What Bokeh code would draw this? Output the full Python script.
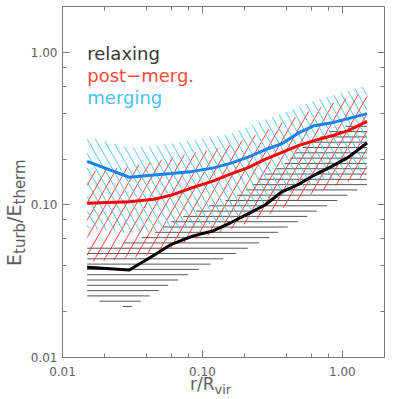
import numpy as np
from bokeh.plotting import figure
from bokeh.models import LogAxis, LogTicker, PrintfTickFormatter, Label, Range1d, Div
from bokeh.layouts import column, row
from bokeh.embed import file_html
from bokeh.resources import INLINE

# radial bins r/R_vir
r_bins = [0.015, 0.03, 0.045, 0.06, 0.085, 0.12, 0.16, 0.21, 0.28, 0.37, 0.49, 0.63, 0.84, 1.1, 1.5]

# relaxing (black): median and band
relax_med = [0.039, 0.0375, 0.0468, 0.0552, 0.0625, 0.0678, 0.0767, 0.087, 0.100, 0.122, 0.137, 0.157, 0.179, 0.205, 0.255]
relax_lo = [0.0244, 0.0211, 0.0263, 0.0305, 0.0362, 0.0418, 0.0465, 0.052, 0.0588, 0.0684, 0.0783, 0.0894, 0.1023, 0.1166, 0.1355]
relax_hi = [0.0532, 0.0569, 0.0655, 0.0779, 0.0893, 0.1015, 0.1095, 0.1274, 0.160, 0.1806, 0.230, 0.2636, 0.311, 0.331, 0.341]

# post-merger (red)
post_med = [0.1026, 0.105, 0.109, 0.116, 0.130, 0.144, 0.160, 0.175, 0.199, 0.221, 0.246, 0.264, 0.284, 0.307, 0.353]
post_lo = [0.0422, 0.0445, 0.0476, 0.0521, 0.0593, 0.0644, 0.0695, 0.0761, 0.0847, 0.0948, 0.108, 0.120, 0.131, 0.142, 0.154]
post_hi = [0.165, 0.178, 0.193, 0.205, 0.220, 0.232, 0.248, 0.272, 0.307, 0.346, 0.385, 0.425, 0.462, 0.506, 0.556]

# merging (blue)
merg_med = [0.193, 0.152, 0.157, 0.161, 0.166, 0.175, 0.188, 0.205, 0.230, 0.252, 0.298, 0.331, 0.346, 0.368, 0.397]
merg_lo = [0.0706, 0.0654, 0.0664, 0.0685, 0.0717, 0.0761, 0.0809, 0.0886, 0.1015, 0.1146, 0.1274, 0.1374, 0.148, 0.157, 0.167]
merg_hi = [0.281, 0.237, 0.244, 0.252, 0.266, 0.278, 0.295, 0.326, 0.362, 0.397, 0.441, 0.483, 0.521, 0.562, 0.607]

legend_labels = ["relaxing", "post\u2212merg.", "merging"]

FW, FH = 325, 351
XMIN, XMAX, YMIN, YMAX = 0.01, 2.0, 0.01, 2.0
XS = FW / np.log10(XMAX / XMIN)   # px per decade
YS = FH / np.log10(YMAX / YMIN)
FRAME_L, FRAME_B = 59, 357        # page position of frame's left / bottom edge


def hatch_segments(r, lo, hi, theta_deg, spacing, phase=0.0):
    U = np.log10(r) * XS
    Vlo = np.log10(lo) * YS
    Vhi = np.log10(hi) * YS
    th = np.radians(theta_deg)
    d = np.array([np.cos(th), np.sin(th)])
    n = np.array([-np.sin(th), np.cos(th)])
    corners = np.array([[U[0], Vlo.min()], [U[0], Vhi.max()],
                        [U[-1], Vlo.min()], [U[-1], Vhi.max()]])
    cv = corners @ n
    tv = corners @ d
    t = np.arange(tv.min() - 2, tv.max() + 2, 0.05)
    xs, ys = [], []
    k0 = int(np.floor((cv.min() - phase) / spacing))
    k1 = int(np.ceil((cv.max() - phase) / spacing))
    for k in range(k0, k1 + 1):
        c = phase + k * spacing
        pu = c * n[0] + t * d[0]
        pv = c * n[1] + t * d[1]
        inside = (pu >= U[0]) & (pu <= U[-1])
        li = np.interp(pu, U, Vlo)
        hi_ = np.interp(pu, U, Vhi)
        inside &= (pv >= li) & (pv <= hi_)
        edges = np.flatnonzero(np.diff(np.concatenate([[0], inside.astype(int), [0]])))
        for s, e in zip(edges[::2], edges[1::2]):
            if e - s < 3:
                continue
            xs.append([float(v) for v in 10 ** (pu[[s, e - 1]] / XS)])
            ys.append([float(v) for v in 10 ** (pv[[s, e - 1]] / YS)])
    return xs, ys


YDIV_W = 27
P_W, P_H = 399 - YDIV_W, 380
BL = FRAME_L - YDIV_W
BT = 6
BR = P_W - BL - FW
BB = P_H - BT - FH

p = figure(x_axis_type="log", y_axis_type="log",
           x_range=Range1d(XMIN, XMAX), y_range=Range1d(YMIN, YMAX),
           width=P_W, height=P_H,
           min_border_left=BL, min_border_right=BR, min_border_top=BT, min_border_bottom=BB,
           output_backend="svg", toolbar_location=None)
p.xgrid.visible = False
p.ygrid.visible = False
p.outline_line_color = None
p.background_fill_color = "white"
p.border_fill_color = "white"

AX = "#7a7a7a"
TXT = "#5e5e5e"
for ax in (p.xaxis[0], p.yaxis[0]):
    ax.ticker = LogTicker()
    ax.formatter = PrintfTickFormatter(format="%.2f")
    ax.axis_line_color = AX
    ax.major_tick_line_color = AX
    ax.minor_tick_line_color = AX
    ax.major_tick_in = 7
    ax.major_tick_out = 0
    ax.minor_tick_in = 4
    ax.minor_tick_out = 0
    ax.major_label_text_font = "DejaVu Sans"
    ax.major_label_text_font_size = "12px"
    ax.major_label_text_color = TXT
p.xaxis[0].major_label_standoff = 9
p.yaxis[0].major_label_standoff = 5

for loc in ("above", "right"):
    a = LogAxis(ticker=LogTicker(), axis_line_color=AX, major_tick_line_color=AX,
                minor_tick_line_color=AX, major_tick_in=7, major_tick_out=0,
                minor_tick_in=4, minor_tick_out=0, major_label_text_font_size="1px",
                major_label_text_alpha=0, major_label_standoff=0)
    p.add_layout(a, loc)

# hatched bands
bx, by = hatch_segments(r_bins, relax_lo, relax_hi, 0, 5.3, 0.3)
p.multi_line(bx, by, line_color="#3a3a3a", line_width=1, line_alpha=0.85)
rx, ry = hatch_segments(r_bins, post_lo, post_hi, 60, 8.7, 0.0)
p.multi_line(rx, ry, line_color="#ff3322", line_width=1, line_alpha=0.9)
cx, cy = hatch_segments(r_bins, merg_lo, merg_hi, 120, 7.2, 0.0)
p.multi_line(cx, cy, line_color="#4cc3f5", line_width=1, line_alpha=0.95)

# median lines
p.line(r_bins, relax_med, line_color="black", line_width=3)
p.line(r_bins, post_med, line_color="#ff0000", line_width=3)
p.line(r_bins, merg_med, line_color="#1482f0", line_width=3)


def dx(X):
    return float(10 ** (np.log10(XMIN) + (X - FRAME_L) / XS))


def dy(Y):
    return float(10 ** (np.log10(YMIN) + (FRAME_B - Y) / YS))


# legend texts
for txt, col, Y in zip(legend_labels, ["#383838", "#ff4a3a", "#4ac2f5"], [53, 75, 97]):
    p.add_layout(Label(x=dx(84), y=dy(Y), text=txt, text_color=col,
                       text_font="DejaVu Sans", text_font_size="18px",
                       text_baseline="alphabetic", text_align="left"))

ff = "font-family:'DejaVu Sans';"
ylab_html = (
    '<div style="position:relative; left:5px; top:254px; width:0; height:0;">'
    '<div style="position:absolute; left:0; top:0; transform:rotate(-90deg); '
    'transform-origin:0 0; white-space:nowrap; ' + ff +
    ' font-size:19px; line-height:19px; color:' + TXT + ';">'
    'E<span style="font-size:15px; position:relative; top:4px;">turb</span>/E'
    '<span style="font-size:15px; position:relative; top:4px;">therm</span></div></div>'
)
ydiv = Div(text=ylab_html, width=YDIV_W, height=P_H, margin=0)

xlab_html = (
    '<div style="position:relative; left:190px; top:-4px; white-space:nowrap; ' + ff +
    ' font-size:17px; line-height:17px; color:' + TXT + ';">'
    'r/R<span style="font-size:13px; position:relative; top:4px;">vir</span></div>'
)
xdiv = Div(text=xlab_html, width=399, height=399 - P_H, margin=0)

layout = column(row(ydiv, p, spacing=0), xdiv, spacing=0)
open("out.html", "w").write(file_html(layout, INLINE))
